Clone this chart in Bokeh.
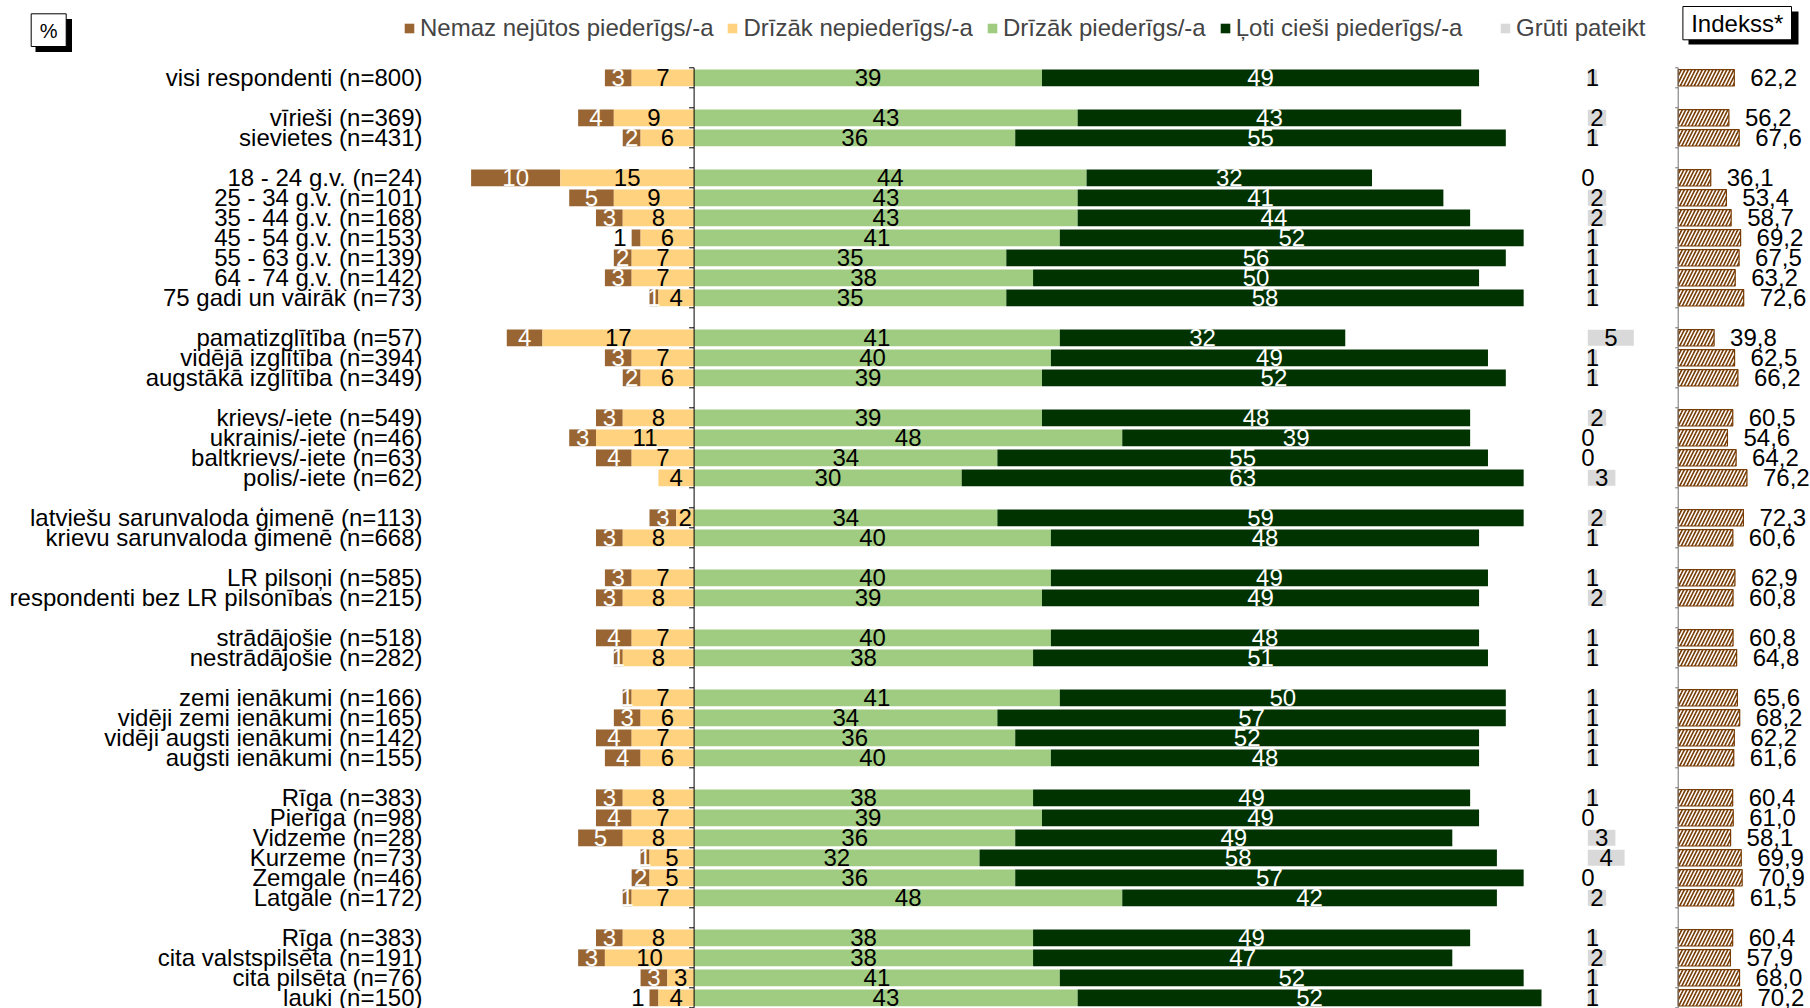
import numpy as np
from bokeh.plotting import figure
from bokeh.models import Range1d, Legend, LegendItem, ColumnDataSource
from bokeh.core.properties import value
from bokeh.embed import file_html
from bokeh.resources import INLINE

# ---------------- data ----------------
categories = [
    "visi respondenti (n=800)",
    "vīrieši (n=369)", "sievietes (n=431)",
    "18 - 24 g.v. (n=24)", "25 - 34 g.v. (n=101)", "35 - 44 g.v. (n=168)",
    "45 - 54 g.v. (n=153)", "55 - 63 g.v. (n=139)", "64 - 74 g.v. (n=142)",
    "75 gadi un vairāk (n=73)",
    "pamatizglītība (n=57)", "vidējā izglītība (n=394)", "augstākā izglītība (n=349)",
    "krievs/-iete (n=549)", "ukrainis/-iete (n=46)", "baltkrievs/-iete (n=63)",
    "polis/-iete (n=62)",
    "latviešu sarunvaloda ģimenē (n=113)", "krievu sarunvaloda ģimenē (n=668)",
    "LR pilsoņi (n=585)", "respondenti bez LR pilsonības (n=215)",
    "strādājošie (n=518)", "nestrādājošie (n=282)",
    "zemi ienākumi (n=166)", "vidēji zemi ienākumi (n=165)",
    "vidēji augsti ienākumi (n=142)", "augsti ienākumi (n=155)",
    "Rīga (n=383)", "Pierīga (n=98)", "Vidzeme (n=28)", "Kurzeme (n=73)",
    "Zemgale (n=46)", "Latgale (n=172)",
    "Rīga (n=383)", "cita valstspilsēta (n=191)", "cita pilsēta (n=76)", "lauki (n=150)",
]
group_sizes = [1, 2, 7, 3, 4, 2, 2, 2, 4, 6, 4]

nemaz = [3, 4, 2, 10, 5, 3, 1, 2, 3, 1, 4, 3, 2, 3, 3, 4, 0, 3, 3, 3, 3, 4, 1,
         1, 3, 4, 4, 3, 4, 5, 1, 2, 1, 3, 3, 3, 1]
nepied = [7, 9, 6, 15, 9, 8, 6, 7, 7, 4, 17, 7, 6, 8, 11, 7, 4, 2, 8, 7, 8, 7, 8,
          7, 6, 7, 6, 8, 7, 8, 5, 5, 7, 8, 10, 3, 4]
pied = [39, 43, 36, 44, 43, 43, 41, 35, 38, 35, 41, 40, 39, 39, 48, 34, 30, 34, 40,
        40, 39, 40, 38, 41, 34, 36, 40, 38, 39, 36, 32, 36, 48, 38, 38, 41, 43]
cieshi = [49, 43, 55, 32, 41, 44, 52, 56, 50, 58, 32, 49, 52, 48, 39, 55, 63, 59, 48,
          49, 49, 48, 51, 50, 57, 52, 48, 49, 49, 49, 58, 57, 42, 49, 47, 52, 52]
gruti = [1, 2, 1, 0, 2, 2, 1, 1, 1, 1, 5, 1, 1, 2, 0, 0, 3, 2, 1, 1, 2, 1, 1,
         1, 1, 1, 1, 1, 0, 3, 4, 0, 2, 1, 2, 1, 1]
indekss = [62.2, 56.2, 67.6, 36.1, 53.4, 58.7, 69.2, 67.5, 63.2, 72.6, 39.8, 62.5,
           66.2, 60.5, 54.6, 64.2, 76.2, 72.3, 60.6, 62.9, 60.8, 60.8, 64.8, 65.6,
           68.2, 62.2, 61.6, 60.4, 61.0, 58.1, 69.9, 70.9, 61.5, 60.4, 57.9, 68.0, 70.2]

series_names = ["Nemaz nejūtos piederīgs/-a", "Drīzāk nepiederīgs/-a",
                "Drīzāk piederīgs/-a", "Ļoti cieši piederīgs/-a"]
gruti_name = "Grūti pateikt"
index_title = "Indekss*"
unit_label = "%"
# rows whose first-segment label sits outside its bar
outside_label_rows = {"45 - 54 g.v. (n=153)", "lauki (n=150)"}

# ---------------- style / layout ----------------
FONT = "Liberation Sans"
FS = "24px"
C_NEMAZ, C_NEPIED, C_PIED, C_CIESHI = "#996633", "#ffd27f", "#a0cc82", "#003300"
C_GRUTI, C_INDEX = "#d9d9d9", "#783c05"

W, H = 1810, 1008
LEFT, TOP = 0, 0
ZERO_PX, PX_PER_PCT = 693.6, 8.92
GP_ZERO_PX, GP_PX = 1587.3, 9.2
IDX_ZERO_PX, IDX_PX = 1677.7, 0.902
ROW0_PY, ROW_PX = 77.3, 20.0
BAR_H = 0.84


def xr(zero, scale):
    return Range1d((LEFT - zero) / scale, (LEFT + W - zero) / scale)


def X(px):
    return (px - ZERO_PX) / PX_PER_PCT


def Y(py):
    return (py - ROW0_PY) / ROW_PX


# slot positions (blank slot between groups)
slots = []
s = 0
for g in group_sizes:
    for _ in range(g):
        slots.append(s)
        s += 1
    s += 1
n_slots = s - 1

nm = np.array(nemaz, float)
ne = np.array(nepied, float)
pd_ = np.array(pied, float)
cc = np.array(cieshi, float)
gp = np.array(gruti, float)
ix = np.array(indekss, float)
ys = np.array(slots, float)

src = ColumnDataSource(dict(
    y=ys,
    nm_l=-(ne + nm), nm_r=-ne,
    ne_l=-ne, ne_r=np.zeros_like(ne),
    pd_l=np.zeros_like(pd_), pd_r=pd_,
    cc_l=pd_, cc_r=pd_ + cc,
    gp_l=np.zeros_like(gp), gp_r=gp,
    ix_l=np.zeros_like(ix), ix_r=ix,
))

p = figure(width=W, height=H, x_range=xr(ZERO_PX, PX_PER_PCT),
           y_range=Range1d((TOP + H - ROW0_PY) / ROW_PX, (TOP - ROW0_PY) / ROW_PX),
           output_backend="svg", toolbar_location=None,
           x_axis_location=None, y_axis_location=None, min_border=0)
p.outline_line_color = None
p.background_fill_color = "white"
p.border_fill_color = "white"
p.grid.visible = False
p.xgrid.grid_line_color = None
p.ygrid.grid_line_color = None
p.extra_x_ranges = {"gp": xr(GP_ZERO_PX, GP_PX), "idx": xr(IDX_ZERO_PX, IDX_PX)}

r_nm = p.hbar(y="y", left="nm_l", right="nm_r", height=BAR_H, source=src,
              fill_color=C_NEMAZ, line_color=None)
r_ne = p.hbar(y="y", left="ne_l", right="ne_r", height=BAR_H, source=src,
              fill_color=C_NEPIED, line_color=None)
r_pd = p.hbar(y="y", left="pd_l", right="pd_r", height=BAR_H, source=src,
              fill_color=C_PIED, line_color=None)
r_cc = p.hbar(y="y", left="cc_l", right="cc_r", height=BAR_H, source=src,
              fill_color=C_CIESHI, line_color=None)
r_gp = p.hbar(y="y", left="gp_l", right="gp_r", height=0.8, source=src,
              fill_color=C_GRUTI, line_color=None, x_range_name="gp")
p.hbar(y="y", left="ix_l", right="ix_r", height=0.82, source=src,
       fill_color=C_INDEX, line_color=C_INDEX, line_width=1.2,
       hatch_pattern="/", hatch_color="white", hatch_scale=7, hatch_weight=1.6,
       x_range_name="idx")

# axis lines with ticks between categories
bounds = np.arange(n_slots + 1) - 0.5
p.segment(x0=[0], y0=[bounds[0]], x1=[0], y1=[bounds[-1]], line_color="black", line_width=1)
p.segment(x0=np.full(len(bounds), -5 / PX_PER_PCT), x1=np.zeros(len(bounds)),
          y0=bounds, y1=bounds, line_color="black", line_width=1)
p.segment(x0=[0], y0=[bounds[0]], x1=[0], y1=[bounds[-1]], line_color="#6f6f6f",
          line_width=1, x_range_name="idx")
p.segment(x0=np.full(len(bounds), -3 / IDX_PX), x1=np.zeros(len(bounds)),
          y0=bounds, y1=bounds, line_color="#6f6f6f", line_width=1, x_range_name="idx")


def txt(xs, yv, labels, color="black", align="center", xoff=0, rng="default"):
    kw = {}
    if rng != "default":
        kw["x_range_name"] = rng
    p.text(x=list(xs), y=list(yv), text=list(labels), text_font=value(FONT),
           text_font_size=FS, text_align=align, text_baseline="middle",
           text_color=color, x_offset=xoff, **kw)


# category labels
txt([X(422)] * len(categories), ys, categories, align="right")

# first-segment labels
inside = [i for i, c in enumerate(categories) if nemaz[i] > 0 and c not in outside_label_rows]
outside = [i for i, c in enumerate(categories) if nemaz[i] > 0 and c in outside_label_rows]
txt([(-(ne[i] + nm[i]) - ne[i]) / 2 for i in inside], ys[inside],
    [str(nemaz[i]) for i in inside], color="white")
txt([-(ne[i] + nm[i]) for i in outside], ys[outside],
    [str(nemaz[i]) for i in outside], color="black", align="right", xoff=-5)

# other segment labels
txt(-ne / 2, ys, [str(v) for v in nepied])
txt(pd_ / 2, ys, [str(v) for v in pied])
txt(pd_ + cc / 2, ys, [str(v) for v in cieshi], color="white")
txt(gp / 2, ys, [str(v) for v in gruti], rng="gp")
txt(ix, ys, [f"{v:.1f}".replace(".", ",") for v in indekss], align="left", xoff=16, rng="idx")

# legends
common = dict(orientation="horizontal", glyph_width=12, glyph_height=12,
              label_standoff=5, spacing=13, padding=0, margin=0,
              label_height=28, border_line_color=None, background_fill_alpha=0,
              label_text_font=FONT, label_text_font_size=FS,
              label_text_baseline="middle")
leg_y = H - 28 - 14
leg1 = Legend(items=[LegendItem(label=n, renderers=[r])
                     for n, r in zip(series_names, [r_nm, r_ne, r_pd, r_cc])],
              location=(403, leg_y), **common)
leg2 = Legend(items=[LegendItem(label=gruti_name, renderers=[r_gp])],
              location=(1499, leg_y), **common)
p.add_layout(leg1)
p.add_layout(leg2)

# boxed captions with shadow
p.quad(left=[X(35)], right=[X(71.5)], top=[Y(18.5)], bottom=[Y(51.5)],
       fill_color="black", line_color=None)
p.quad(left=[X(30.7)], right=[X(65.7)], top=[Y(13.3)], bottom=[Y(46)],
       fill_color="white", line_color="black", line_width=1)
p.text(x=[X(48.2)], y=[Y(30)], text=[unit_label], text_font=value(FONT),
       text_font_size="20px", text_align="center", text_baseline="middle")
p.quad(left=[X(1688)], right=[X(1798)], top=[Y(11)], bottom=[Y(44)],
       fill_color="black", line_color=None)
p.quad(left=[X(1682.4)], right=[X(1791)], top=[Y(6)], bottom=[Y(39.3)],
       fill_color="white", line_color="black", line_width=1)
p.text(x=[X(1736.7)], y=[Y(23)], text=[index_title], text_font=value(FONT),
       text_font_size=FS, text_align="center", text_baseline="middle")

open("out.html", "w").write(file_html(p, INLINE))
